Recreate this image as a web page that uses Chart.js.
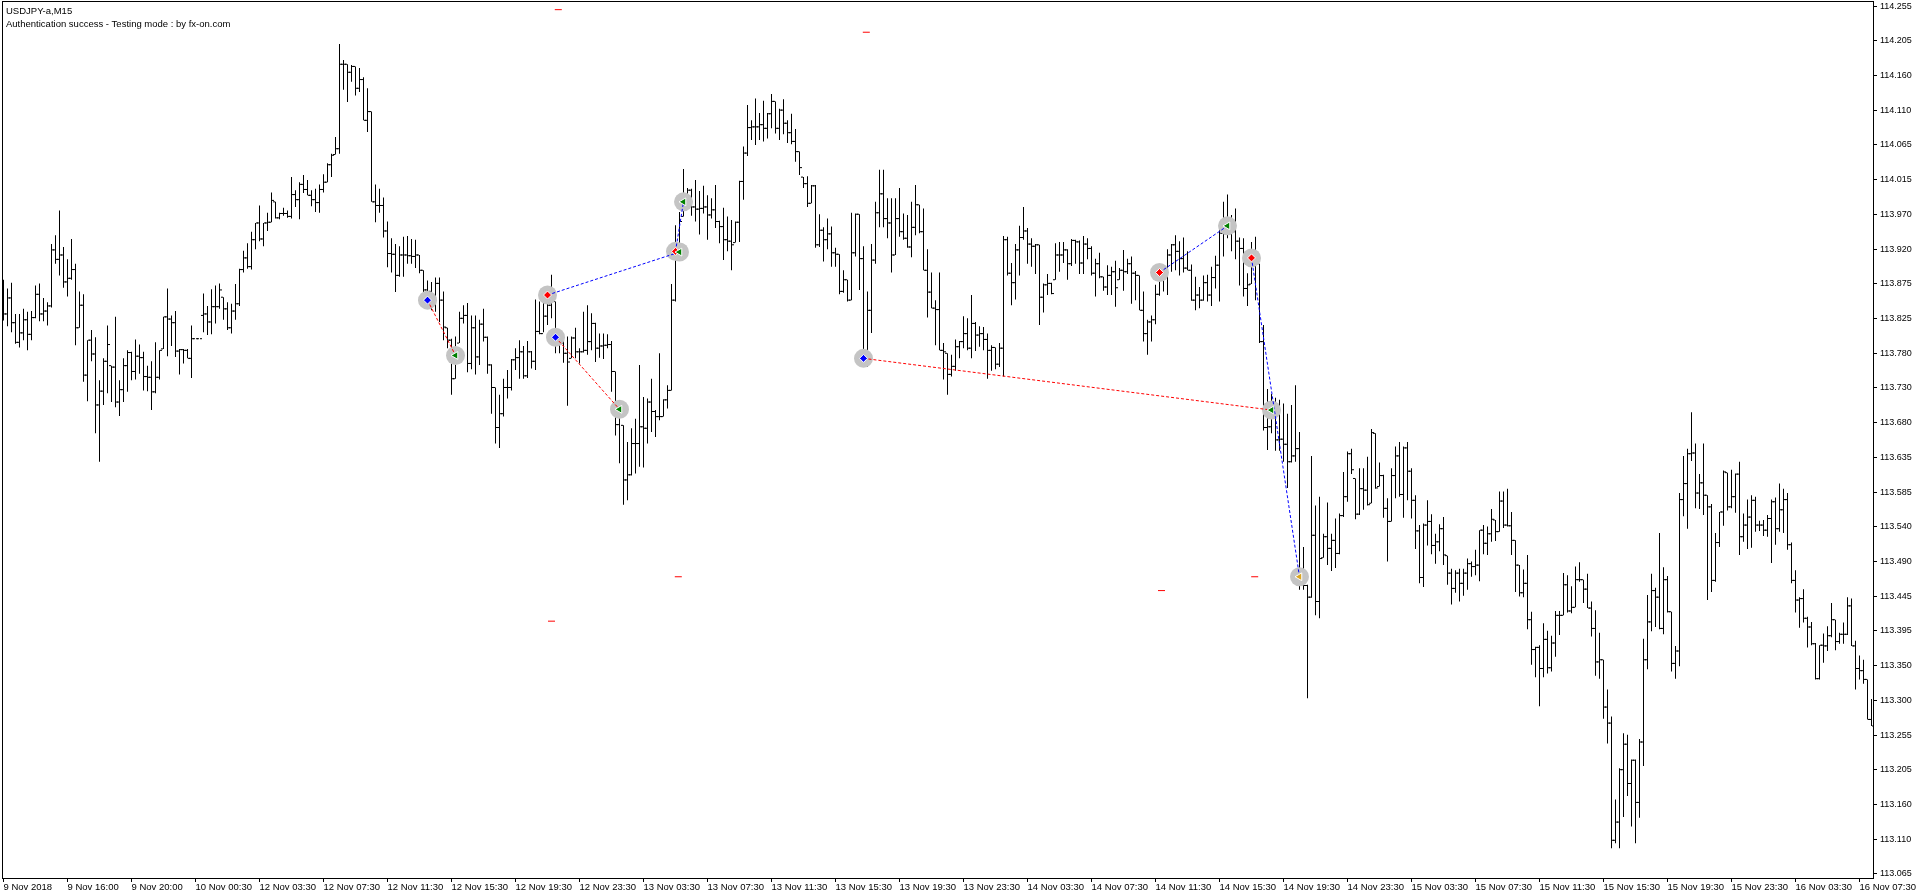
<!DOCTYPE html>
<html><head><meta charset="utf-8">
<script src="https://cdn.jsdelivr.net/npm/chart.js@4.4.0/dist/chart.umd.min.js"></script>
<style>html,body{margin:0;padding:0;background:#fff;overflow:hidden}canvas{display:block}</style>
</head><body>
<canvas id="c" width="1916" height="896" style="width:1916px;height:896px"></canvas>
<script>
// ---- chart text ----
const titleLines = ["USDJPY-a,M15", "Authentication success - Testing mode : by fx-on.com"];
const xTickLabels = ["9 Nov 2018","9 Nov 16:00","9 Nov 20:00","10 Nov 00:30","12 Nov 03:30","12 Nov 07:30","12 Nov 11:30","12 Nov 15:30","12 Nov 19:30","12 Nov 23:30","13 Nov 03:30","13 Nov 07:30","13 Nov 11:30","13 Nov 15:30","13 Nov 19:30","13 Nov 23:30","14 Nov 03:30","14 Nov 07:30","14 Nov 11:30","14 Nov 15:30","14 Nov 19:30","14 Nov 23:30","15 Nov 03:30","15 Nov 07:30","15 Nov 11:30","15 Nov 15:30","15 Nov 19:30","15 Nov 23:30","16 Nov 03:30","16 Nov 07:30"];
const yTickLabels = ["113.065","113.110","113.160","113.205","113.255","113.300","113.350","113.395","113.445","113.490","113.540","113.585","113.635","113.680","113.730","113.780","113.825","113.875","113.920","113.970","114.015","114.065","114.110","114.160","114.205","114.255"];

// ---- OHLC series (M15 bars, index 0 = 9 Nov 12:00) ----
const open = [
113.851,113.832,113.854,113.820,113.793,113.806,113.824,113.804,113.827,113.859,
113.832,113.836,113.843,113.920,113.907,113.913,113.876,113.881,113.893,113.813,
113.844,113.748,113.796,113.777,113.707,113.726,113.767,113.761,113.759,113.711,
113.728,113.761,113.779,113.753,113.774,113.772,113.746,113.745,113.725,113.745,
113.784,113.828,113.825,113.820,113.781,113.783,113.782,113.771,113.798,113.798,
113.830,113.832,113.821,113.842,113.842,113.855,113.839,113.813,113.836,113.846,
113.893,113.909,113.897,113.934,113.957,113.935,113.957,113.958,113.986,113.964,
113.970,113.970,113.966,113.996,113.989,114.010,114.003,113.995,113.989,113.985,
114.003,114.013,114.037,114.051,114.059,114.175,114.175,114.164,114.172,114.142,
114.154,114.098,114.110,113.986,113.981,113.981,113.946,113.915,113.914,113.885,
113.913,113.913,113.912,113.911,113.913,113.892,113.865,113.863,113.849,113.874,
113.851,113.813,113.796,113.743,113.792,113.826,113.830,113.764,113.813,113.773,
113.818,113.800,113.762,113.731,113.676,113.695,113.731,113.731,113.769,113.772,
113.780,113.747,113.780,113.767,113.808,113.805,113.829,113.844,113.849,113.798,
113.792,113.778,113.771,113.799,113.780,113.780,113.782,113.794,113.819,113.785,
113.788,113.789,113.790,113.753,113.680,113.679,113.604,113.611,113.654,113.654,
113.677,113.675,113.711,113.698,113.691,113.691,113.714,113.727,113.851,113.920,
113.966,113.986,114.002,113.979,113.976,113.977,113.979,113.968,113.975,113.959,
113.952,113.934,113.932,113.930,113.958,114.014,114.053,114.088,114.089,114.089,
114.092,114.087,114.107,114.124,114.087,114.112,114.094,114.081,114.069,114.055,
114.020,114.011,113.984,114.008,113.927,113.947,113.934,113.942,113.916,113.914,
113.863,113.879,113.851,113.916,113.969,113.908,113.771,113.837,113.906,113.971,
113.997,113.963,113.957,113.913,113.963,113.945,113.936,113.924,113.951,113.982,
113.945,113.892,113.862,113.840,113.838,113.782,113.778,113.749,113.760,113.787,
113.794,113.805,113.785,113.819,113.803,113.805,113.797,113.782,113.786,113.763,
113.785,113.934,113.888,113.875,113.920,113.937,113.946,113.928,113.925,113.927,
113.855,113.872,113.874,113.879,113.913,113.913,113.920,113.901,113.933,113.931,
113.902,113.928,113.922,113.888,113.901,113.883,113.869,113.885,113.890,113.879,
113.892,113.890,113.901,113.888,113.885,113.837,113.805,113.821,113.824,113.859,
113.885,113.885,113.913,113.927,113.918,113.908,113.895,113.892,113.851,113.858,
113.851,113.875,113.858,113.882,113.899,113.943,113.950,113.955,113.945,113.932,
113.922,113.867,113.873,113.909,113.901,113.794,113.676,113.677,113.700,113.659,
113.660,113.653,113.629,113.637,113.647,113.460,113.459,113.443,113.528,113.437,
113.497,113.526,113.510,113.521,113.503,113.555,113.581,113.640,113.606,113.557,
113.592,113.590,113.572,113.668,113.595,113.610,113.565,113.547,113.610,113.637,
113.584,113.648,113.616,113.576,113.534,113.470,113.542,113.547,113.514,113.519,
113.537,113.500,113.476,113.455,113.476,113.462,113.476,113.489,113.485,113.487,
113.535,113.517,113.530,113.549,113.533,113.575,113.542,113.541,113.521,113.487,
113.449,113.462,113.412,113.371,113.374,113.345,113.385,113.346,113.380,113.418,
113.418,113.460,113.424,113.429,113.467,113.467,113.454,113.428,113.400,113.354,
113.357,113.292,113.270,113.109,113.134,113.206,113.241,113.187,113.219,113.161,
113.244,113.357,113.409,113.452,113.443,113.400,113.467,113.423,113.352,113.369,
113.577,113.599,113.640,113.641,113.586,113.600,113.583,113.567,113.466,113.518,
113.560,113.614,113.567,113.581,113.612,113.526,113.542,113.553,113.576,113.542,
113.542,113.535,113.551,113.574,113.537,113.563,113.577,113.515,113.466,113.439,
113.441,113.414,113.402,113.379,113.331,113.377,113.376,113.390,113.412,113.382,
113.392,113.392,113.431,113.376,113.345,113.342,113.330,113.275];
const high = [
113.879,113.867,113.875,113.832,113.832,113.839,113.835,113.836,113.871,113.874,
113.854,113.848,113.928,113.940,113.974,113.924,113.907,113.935,113.901,113.863,
113.859,113.796,113.810,113.800,113.741,113.771,113.816,113.761,113.828,113.741,
113.771,113.782,113.780,113.797,113.790,113.780,113.761,113.767,113.793,113.782,
113.828,113.867,113.830,113.836,113.784,113.784,113.784,113.816,113.798,113.798,
113.860,113.843,113.866,113.871,113.874,113.855,113.848,113.846,113.873,113.894,
113.919,113.929,113.945,113.957,113.981,113.957,113.971,113.999,113.986,113.971,
113.978,113.974,114.020,114.002,114.013,114.023,114.016,114.002,114.004,114.010,
114.024,114.039,114.052,114.075,114.203,114.181,114.175,114.174,114.172,114.170,
114.157,114.142,114.110,114.010,114.004,113.992,113.959,113.936,113.928,113.925,
113.938,113.939,113.935,113.934,113.913,113.892,113.878,113.876,113.882,113.882,
113.863,113.813,113.798,113.801,113.835,113.844,113.847,113.830,113.830,113.824,
113.839,113.801,113.763,113.731,113.721,113.743,113.755,113.770,113.785,113.796,
113.788,113.795,113.781,113.852,113.849,113.852,113.849,113.886,113.849,113.798,
113.795,113.801,113.801,113.813,113.785,113.835,113.844,113.833,113.820,113.805,
113.805,113.804,113.795,113.753,113.707,113.679,113.656,113.675,113.688,113.762,
113.718,113.716,113.743,113.700,113.778,113.715,113.734,113.873,113.954,113.972,
114.031,114.005,114.004,114.016,114.001,114.008,113.995,113.991,114.009,113.960,
113.978,113.966,113.961,113.959,114.015,114.062,114.119,114.098,114.128,114.108,
114.125,114.108,114.134,114.124,114.114,114.127,114.098,114.107,114.086,114.055,
114.020,114.021,114.009,114.009,113.969,113.951,113.963,113.952,113.923,113.914,
113.892,113.879,113.971,113.970,113.969,113.925,113.863,113.928,113.986,114.030,
114.030,113.991,113.991,113.991,114.005,113.970,113.968,113.986,114.009,113.982,
113.977,113.921,113.889,113.851,113.889,113.792,113.778,113.776,113.797,113.795,
113.829,113.826,113.858,113.821,113.815,113.814,113.805,113.789,113.786,113.792,
113.939,113.938,113.902,113.928,113.953,113.979,113.950,113.936,113.928,113.927,
113.874,113.887,113.875,113.929,113.931,113.931,113.921,113.935,113.934,113.933,
113.939,113.936,113.925,113.908,113.916,113.883,113.899,113.897,113.905,113.895,
113.920,113.908,113.911,113.891,113.885,113.863,113.824,113.830,113.872,113.886,
113.898,113.921,113.928,113.940,113.932,113.937,113.918,113.900,113.883,113.869,
113.885,113.886,113.897,113.912,113.950,113.986,113.996,113.968,113.977,113.937,
113.936,113.888,113.931,113.938,113.901,113.817,113.729,113.722,113.717,113.714,
113.709,113.695,113.707,113.734,113.670,113.512,113.460,113.637,113.569,113.581,
113.530,113.573,113.530,113.551,113.558,113.615,113.643,113.647,113.606,113.620,
113.620,113.636,113.674,113.668,113.628,113.611,113.579,113.620,113.650,113.656,
113.650,113.656,113.620,113.583,113.542,113.544,113.576,113.557,113.530,113.543,
113.553,113.500,113.482,113.480,113.482,113.482,113.496,113.492,113.508,113.535,
113.542,113.540,113.564,113.549,113.588,113.588,113.592,113.560,113.521,113.487,
113.481,113.501,113.423,113.375,113.377,113.407,113.397,113.390,113.424,113.424,
113.476,113.473,113.458,113.485,113.491,113.467,113.475,113.437,113.425,113.394,
113.357,113.316,113.279,113.165,113.208,113.256,113.254,113.220,113.220,113.248,
113.386,113.446,113.475,113.456,113.531,113.484,113.472,113.423,113.376,113.586,
113.637,113.647,113.697,113.654,113.612,113.654,113.583,113.571,113.531,113.560,
113.617,113.614,113.618,113.613,113.629,113.558,113.577,113.583,113.581,113.548,
113.549,113.556,113.577,113.580,113.599,113.592,113.586,113.518,113.480,113.443,
113.454,113.416,113.409,113.380,113.377,113.393,113.403,113.435,113.412,113.394,
113.408,113.443,113.441,113.383,113.363,113.357,113.330,113.303];
const low = [
113.823,113.815,113.807,113.791,113.786,113.796,113.782,113.796,113.826,113.822,
113.822,113.816,113.841,113.901,113.885,113.868,113.856,113.879,113.789,113.813,
113.739,113.712,113.767,113.668,113.629,113.707,113.723,113.711,113.704,113.692,
113.711,113.725,113.741,113.742,113.750,113.727,113.726,113.700,113.723,113.742,
113.784,113.774,113.788,113.773,113.749,113.764,113.771,113.744,113.798,113.798,
113.807,113.803,113.804,113.819,113.839,113.824,113.810,113.805,113.824,113.843,
113.889,113.894,113.893,113.921,113.932,113.925,113.946,113.958,113.963,113.962,
113.967,113.964,113.963,113.979,113.962,113.998,113.995,113.980,113.972,113.971,
113.999,114.013,114.020,114.051,114.052,114.140,114.123,114.151,114.132,114.137,
114.098,114.082,113.986,113.958,113.971,113.937,113.896,113.889,113.862,113.883,
113.883,113.901,113.901,113.895,113.888,113.860,113.845,113.837,113.835,113.821,
113.796,113.785,113.721,113.743,113.792,113.819,113.752,113.756,113.749,113.762,
113.794,113.750,113.695,113.654,113.648,113.691,113.716,113.727,113.755,113.743,
113.743,113.744,113.757,113.755,113.804,113.807,113.817,113.826,113.778,113.778,
113.765,113.706,113.771,113.771,113.764,113.779,113.776,113.782,113.766,113.772,
113.770,113.785,113.725,113.665,113.627,113.570,113.576,113.610,113.613,113.622,
113.621,113.654,113.670,113.663,113.686,113.691,113.702,113.727,113.849,113.913,
113.966,113.979,113.967,113.959,113.941,113.970,113.934,113.963,113.950,113.929,
113.906,113.918,113.892,113.930,113.931,113.989,114.049,114.071,114.064,114.071,
114.069,114.073,114.087,114.080,114.071,114.079,114.067,114.065,114.041,114.023,
114.005,113.979,113.984,113.923,113.924,113.904,113.921,113.897,113.897,113.859,
113.861,113.849,113.851,113.911,113.865,113.760,113.759,113.806,113.901,113.951,
113.951,113.936,113.889,113.913,113.938,113.934,113.923,113.910,113.940,113.943,
113.892,113.827,113.840,113.789,113.782,113.742,113.721,113.746,113.754,113.771,
113.785,113.782,113.771,113.781,113.787,113.782,113.743,113.754,113.756,113.759,
113.746,113.885,113.844,113.852,113.885,113.934,113.901,113.897,113.887,113.817,
113.834,113.858,113.859,113.879,113.890,113.902,113.879,113.898,113.901,113.887,
113.887,113.907,113.885,113.856,113.881,113.864,113.858,113.858,113.842,113.879,
113.864,113.887,113.846,113.851,113.837,113.794,113.776,113.794,113.818,113.857,
113.863,113.858,113.890,113.892,113.885,113.889,113.892,113.850,113.837,113.840,
113.850,113.849,113.843,113.867,113.849,113.911,113.936,113.918,113.907,113.871,
113.856,113.843,113.873,113.851,113.792,113.672,113.645,113.668,113.644,113.644,
113.629,113.593,113.628,113.629,113.453,113.453,113.304,113.442,113.418,113.414,
113.497,113.487,113.479,113.483,113.502,113.553,113.574,113.612,113.550,113.556,
113.563,113.569,113.572,113.592,113.595,113.552,113.492,113.547,113.579,113.581,
113.552,113.576,113.551,113.509,113.462,113.457,113.514,113.502,113.489,113.506,
113.487,113.460,113.433,113.449,113.437,113.445,113.453,113.471,113.473,113.465,
113.502,113.501,113.519,113.520,113.533,113.538,113.540,113.501,113.450,113.444,
113.443,113.399,113.350,113.333,113.293,113.333,113.338,113.341,113.361,113.391,
113.418,113.422,113.421,113.429,113.464,113.435,113.428,113.389,113.335,113.331,
113.276,113.242,113.098,113.105,113.098,113.141,113.170,113.128,113.105,113.140,
113.211,113.344,113.396,113.402,113.399,113.392,113.422,113.341,113.331,113.348,
113.554,113.537,113.630,113.565,113.564,113.556,113.439,113.450,113.464,113.512,
113.541,113.562,113.565,113.559,113.501,113.519,113.509,113.511,113.533,113.534,
113.527,113.526,113.490,113.515,113.533,113.531,113.508,113.462,113.422,113.401,
113.408,113.374,113.377,113.330,113.330,113.353,113.369,113.388,113.370,113.379,
113.379,113.391,113.376,113.316,113.330,113.324,113.275,113.266];
const close = [
113.832,113.854,113.820,113.793,113.806,113.824,113.804,113.827,113.859,113.832,
113.836,113.843,113.920,113.907,113.913,113.876,113.881,113.893,113.813,113.844,
113.748,113.796,113.777,113.707,113.726,113.767,113.790,113.759,113.711,113.728,
113.761,113.779,113.753,113.774,113.772,113.746,113.745,113.725,113.745,113.782,
113.828,113.825,113.820,113.781,113.783,113.782,113.771,113.798,113.798,113.798,
113.832,113.821,113.842,113.842,113.865,113.839,113.813,113.836,113.846,113.893,
113.909,113.897,113.934,113.957,113.935,113.957,113.958,113.988,113.964,113.970,
113.970,113.966,113.996,113.989,114.010,114.003,113.995,113.989,113.985,114.003,
114.013,114.037,114.050,114.059,114.175,114.175,114.164,114.172,114.142,114.154,
114.098,114.110,113.986,113.981,113.981,113.946,113.915,113.914,113.885,113.913,
113.913,113.912,113.911,113.913,113.892,113.865,113.863,113.849,113.874,113.851,
113.814,113.796,113.743,113.785,113.826,113.830,113.764,113.813,113.773,113.818,
113.800,113.762,113.731,113.676,113.695,113.731,113.731,113.769,113.772,113.780,
113.747,113.780,113.767,113.808,113.805,113.829,113.844,113.857,113.801,113.792,
113.778,113.766,113.799,113.780,113.780,113.782,113.794,113.819,113.785,113.788,
113.789,113.790,113.753,113.680,113.700,113.604,113.611,113.654,113.654,113.677,
113.675,113.711,113.698,113.691,113.691,113.714,113.727,113.851,113.920,113.959,
113.986,114.002,113.979,113.976,113.977,113.979,113.968,113.975,113.959,113.952,
113.934,113.932,113.927,113.958,114.014,114.053,114.088,114.089,114.089,114.092,
114.087,114.107,114.124,114.087,114.112,114.094,114.081,114.069,114.055,114.033,
114.011,113.984,114.008,113.927,113.947,113.934,113.942,113.916,113.914,113.863,
113.879,113.851,113.916,113.969,113.908,113.771,113.837,113.906,113.971,113.997,
113.963,113.957,113.913,113.963,113.945,113.936,113.924,113.951,113.982,113.945,
113.892,113.862,113.840,113.838,113.782,113.780,113.749,113.760,113.787,113.794,
113.805,113.785,113.819,113.803,113.805,113.797,113.782,113.786,113.763,113.785,
113.934,113.888,113.875,113.920,113.937,113.946,113.928,113.925,113.927,113.855,
113.872,113.874,113.860,113.913,113.913,113.920,113.901,113.933,113.931,113.902,
113.928,113.922,113.888,113.901,113.883,113.869,113.885,113.890,113.868,113.892,
113.890,113.901,113.888,113.885,113.837,113.805,113.821,113.824,113.859,113.885,
113.885,113.913,113.927,113.918,113.908,113.895,113.892,113.851,113.858,113.851,
113.875,113.858,113.882,113.899,113.943,113.950,113.955,113.945,113.932,113.922,
113.867,113.872,113.909,113.903,113.794,113.676,113.677,113.700,113.659,113.660,
113.653,113.629,113.637,113.647,113.460,113.459,113.443,113.528,113.437,113.496,
113.526,113.510,113.521,113.503,113.555,113.581,113.640,113.618,113.557,113.592,
113.590,113.570,113.669,113.593,113.610,113.565,113.547,113.610,113.637,113.584,
113.648,113.616,113.576,113.534,113.470,113.542,113.547,113.514,113.519,113.537,
113.501,113.476,113.455,113.476,113.462,113.476,113.489,113.485,113.487,113.535,
113.517,113.530,113.550,113.533,113.575,113.542,113.541,113.521,113.487,113.449,
113.462,113.412,113.371,113.374,113.345,113.385,113.346,113.380,113.418,113.418,
113.460,113.424,113.429,113.467,113.467,113.454,113.428,113.400,113.354,113.357,
113.292,113.270,113.109,113.134,113.206,113.241,113.187,113.219,113.161,113.244,
113.357,113.409,113.452,113.443,113.400,113.467,113.423,113.352,113.369,113.577,
113.599,113.640,113.641,113.586,113.600,113.583,113.567,113.466,113.518,113.560,
113.615,113.567,113.581,113.612,113.526,113.542,113.553,113.576,113.542,113.542,
113.535,113.551,113.574,113.537,113.563,113.577,113.515,113.466,113.439,113.441,
113.414,113.402,113.379,113.331,113.377,113.376,113.390,113.412,113.382,113.392,
113.392,113.431,113.376,113.345,113.342,113.330,113.275,113.266];

// ---- trade objects (bar index, price) ----
const blueArrowBar = [106, 138, 215];
const blueArrowPrice = [113.851, 113.800, 113.771];
const redArrowBar = [136, 168, 289, 312];
const redArrowPrice = [113.858, 113.918, 113.889, 113.909];
const greenExitBar = [113, 154, 169, 170, 306, 317];
const greenExitPrice = [113.775, 113.701, 113.917, 113.986, 113.953, 113.700];
const goldExitBar = [324];
const goldExitPrice = [113.471];
const redLineFromBar = [106, 138, 215];
const redLineFromPrice = [113.851, 113.800, 113.771];
const redLineToBar = [113, 154, 317];
const redLineToPrice = [113.775, 113.701, 113.700];
const blueLineFromBar = [136, 168, 289, 312];
const blueLineFromPrice = [113.858, 113.918, 113.889, 113.909];
const blueLineToBar = [169, 170, 306, 324];
const blueLineToPrice = [113.917, 113.986, 113.953, 113.471];
const levelMarkBar = [138.7, 215.7, 168.7, 137.0, 289.5, 312.8];
const levelMarkPrice = [114.250, 114.219, 113.471, 113.410, 113.452, 113.471];

// ---- axis ranges ----
const yMin = 113.0572, yMax = 114.2619;
const yLabelLow = 113.0627, yLabelHigh = 114.255;
const xMin = -0.375, xMax = 467.375;
const xLabelEvery = 16;

const FONT = "'Liberation Sans', Arial, sans-serif";
Chart.defaults.font.family = FONT;
Chart.defaults.font.size = 9.5;
Chart.defaults.color = '#000';

const idx = high.map((_, i) => i);
const pts = (bars, prices) => bars.map((b, i) => ({x: b, y: prices[i]}));
const segs = (fb, fp, tb, tp) => {
  const out = [];
  fb.forEach((b, i) => { out.push({x: b, y: fp[i]}); out.push({x: tb[i], y: tp[i]}); out.push({x: tb[i], y: null}); });
  return out;
};
const allMarkBars = blueArrowBar.concat(redArrowBar, greenExitBar, goldExitBar);
const allMarkPrices = blueArrowPrice.concat(redArrowPrice, greenExitPrice, goldExitPrice);

const framePlugin = {
  id: 'frame',
  afterDraw(chart) {
    const {ctx, chartArea: a} = chart;
    ctx.save();
    ctx.strokeStyle = '#000'; ctx.lineWidth = 1;
    ctx.strokeRect(a.left + 0.5, a.top + 0.5, a.right - a.left, a.bottom - a.top);
    ctx.fillStyle = '#000';
    ctx.font = '9.5px ' + FONT;
    ctx.textBaseline = 'alphabetic';
    ctx.fillText(titleLines[0], 6, 14);
    ctx.fillText(titleLines[1], 6, 27);
    ctx.restore();
  }
};

const pointDs = (data, extra) => Object.assign({
  type: 'line', data, showLine: false, pointHoverRadius: 0, borderWidth: 0
}, extra);

new Chart(document.getElementById('c'), {
  type: 'bar',
  data: {
    datasets: [
      pointDs(pts(levelMarkBar, levelMarkPrice), {order: 1, pointStyle: 'line', pointRadius: 3.5, pointBorderWidth: 1, pointBorderColor: '#ff0000'}),
      pointDs(pts(greenExitBar, greenExitPrice), {order: 2, pointStyle: 'triangle', rotation: 270, pointRadius: 4.5, pointBackgroundColor: '#008000', pointBorderColor: '#ffffff', pointBorderWidth: 1}),
      pointDs(pts(goldExitBar, goldExitPrice), {order: 2, pointStyle: 'triangle', rotation: 270, pointRadius: 4.5, pointBackgroundColor: '#daa520', pointBorderColor: '#ffffff', pointBorderWidth: 1}),
      pointDs(pts(blueArrowBar, blueArrowPrice), {order: 2, pointStyle: 'rectRot', pointRadius: 4, pointBackgroundColor: '#0000ff', pointBorderColor: '#ffffff', pointBorderWidth: 1}),
      pointDs(pts(redArrowBar, redArrowPrice), {order: 2, pointStyle: 'rectRot', pointRadius: 4, pointBackgroundColor: '#ff0000', pointBorderColor: '#ffffff', pointBorderWidth: 1}),
      {type: 'line', order: 3, data: segs(redLineFromBar, redLineFromPrice, redLineToBar, redLineToPrice), borderColor: '#ff0000', borderWidth: 1, borderDash: [3, 2], pointRadius: 0, pointHoverRadius: 0, spanGaps: false, fill: false},
      {type: 'line', order: 3, data: segs(blueLineFromBar, blueLineFromPrice, blueLineToBar, blueLineToPrice), borderColor: '#0000ff', borderWidth: 1, borderDash: [3, 2], pointRadius: 0, pointHoverRadius: 0, spanGaps: false, fill: false},
      pointDs(pts(allMarkBars, allMarkPrices), {order: 4, pointStyle: 'circle', pointRadius: 9.5, pointBackgroundColor: '#c4c4c4', pointBorderWidth: 0}),
      pointDs(idx.map(i => ({x: i - 0.375, y: open[i]})), {order: 5, pointStyle: 'line', pointRadius: 1, pointBorderWidth: 1, pointBorderColor: '#000'}),
      pointDs(idx.map(i => ({x: i + 0.375, y: close[i]})), {order: 5, pointStyle: 'line', pointRadius: 1, pointBorderWidth: 1, pointBorderColor: '#000'}),
      {type: 'bar', order: 6, data: idx.map(i => ({x: i, y: [low[i], high[i]]})), backgroundColor: '#000', borderWidth: 0, barThickness: 1, inflateAmount: 0, grouped: false}
    ]
  },
  options: {
    responsive: false, animation: false, devicePixelRatio: 1,
    layout: {autoPadding: false, padding: {left: 2, top: 1, right: 0, bottom: 0}},
    plugins: {legend: {display: false}, tooltip: {enabled: false}},
    events: [],
    scales: {
      x: {
        type: 'linear', min: xMin, max: xMax, offset: false,
        border: {display: false},
        grid: {display: true, drawOnChartArea: false, drawTicks: true, tickLength: 4, color: '#000', offset: false},
        ticks: {autoSkip: false, maxRotation: 0, minRotation: 0, align: 'start', padding: 0, font: {size: 9.5},
                callback: (v, i) => xTickLabels[i]},
        afterBuildTicks: s => { s.ticks = xTickLabels.map((_, k) => ({value: k * xLabelEvery})); },
        afterFit: s => { s.height = 18; s.paddingLeft = 0; s.paddingRight = 0; }
      },
      y: {
        type: 'linear', position: 'right', min: yMin, max: yMax,
        border: {display: false},
        grid: {display: true, drawOnChartArea: false, drawTicks: true, tickLength: 4, color: '#000'},
        ticks: {autoSkip: false, padding: 3, font: {size: 9}, callback: (v, i) => yTickLabels[i]},
        afterBuildTicks: s => {
          const n = yTickLabels.length - 1;
          s.ticks = yTickLabels.map((_, k) => ({value: yLabelLow + (yLabelHigh - yLabelLow) * k / n}));
        },
        afterFit: s => { s.width = 43; s.paddingTop = 0; s.paddingBottom = 0; }
      }
    }
  },
  plugins: [framePlugin]
});
</script>
</body></html>
